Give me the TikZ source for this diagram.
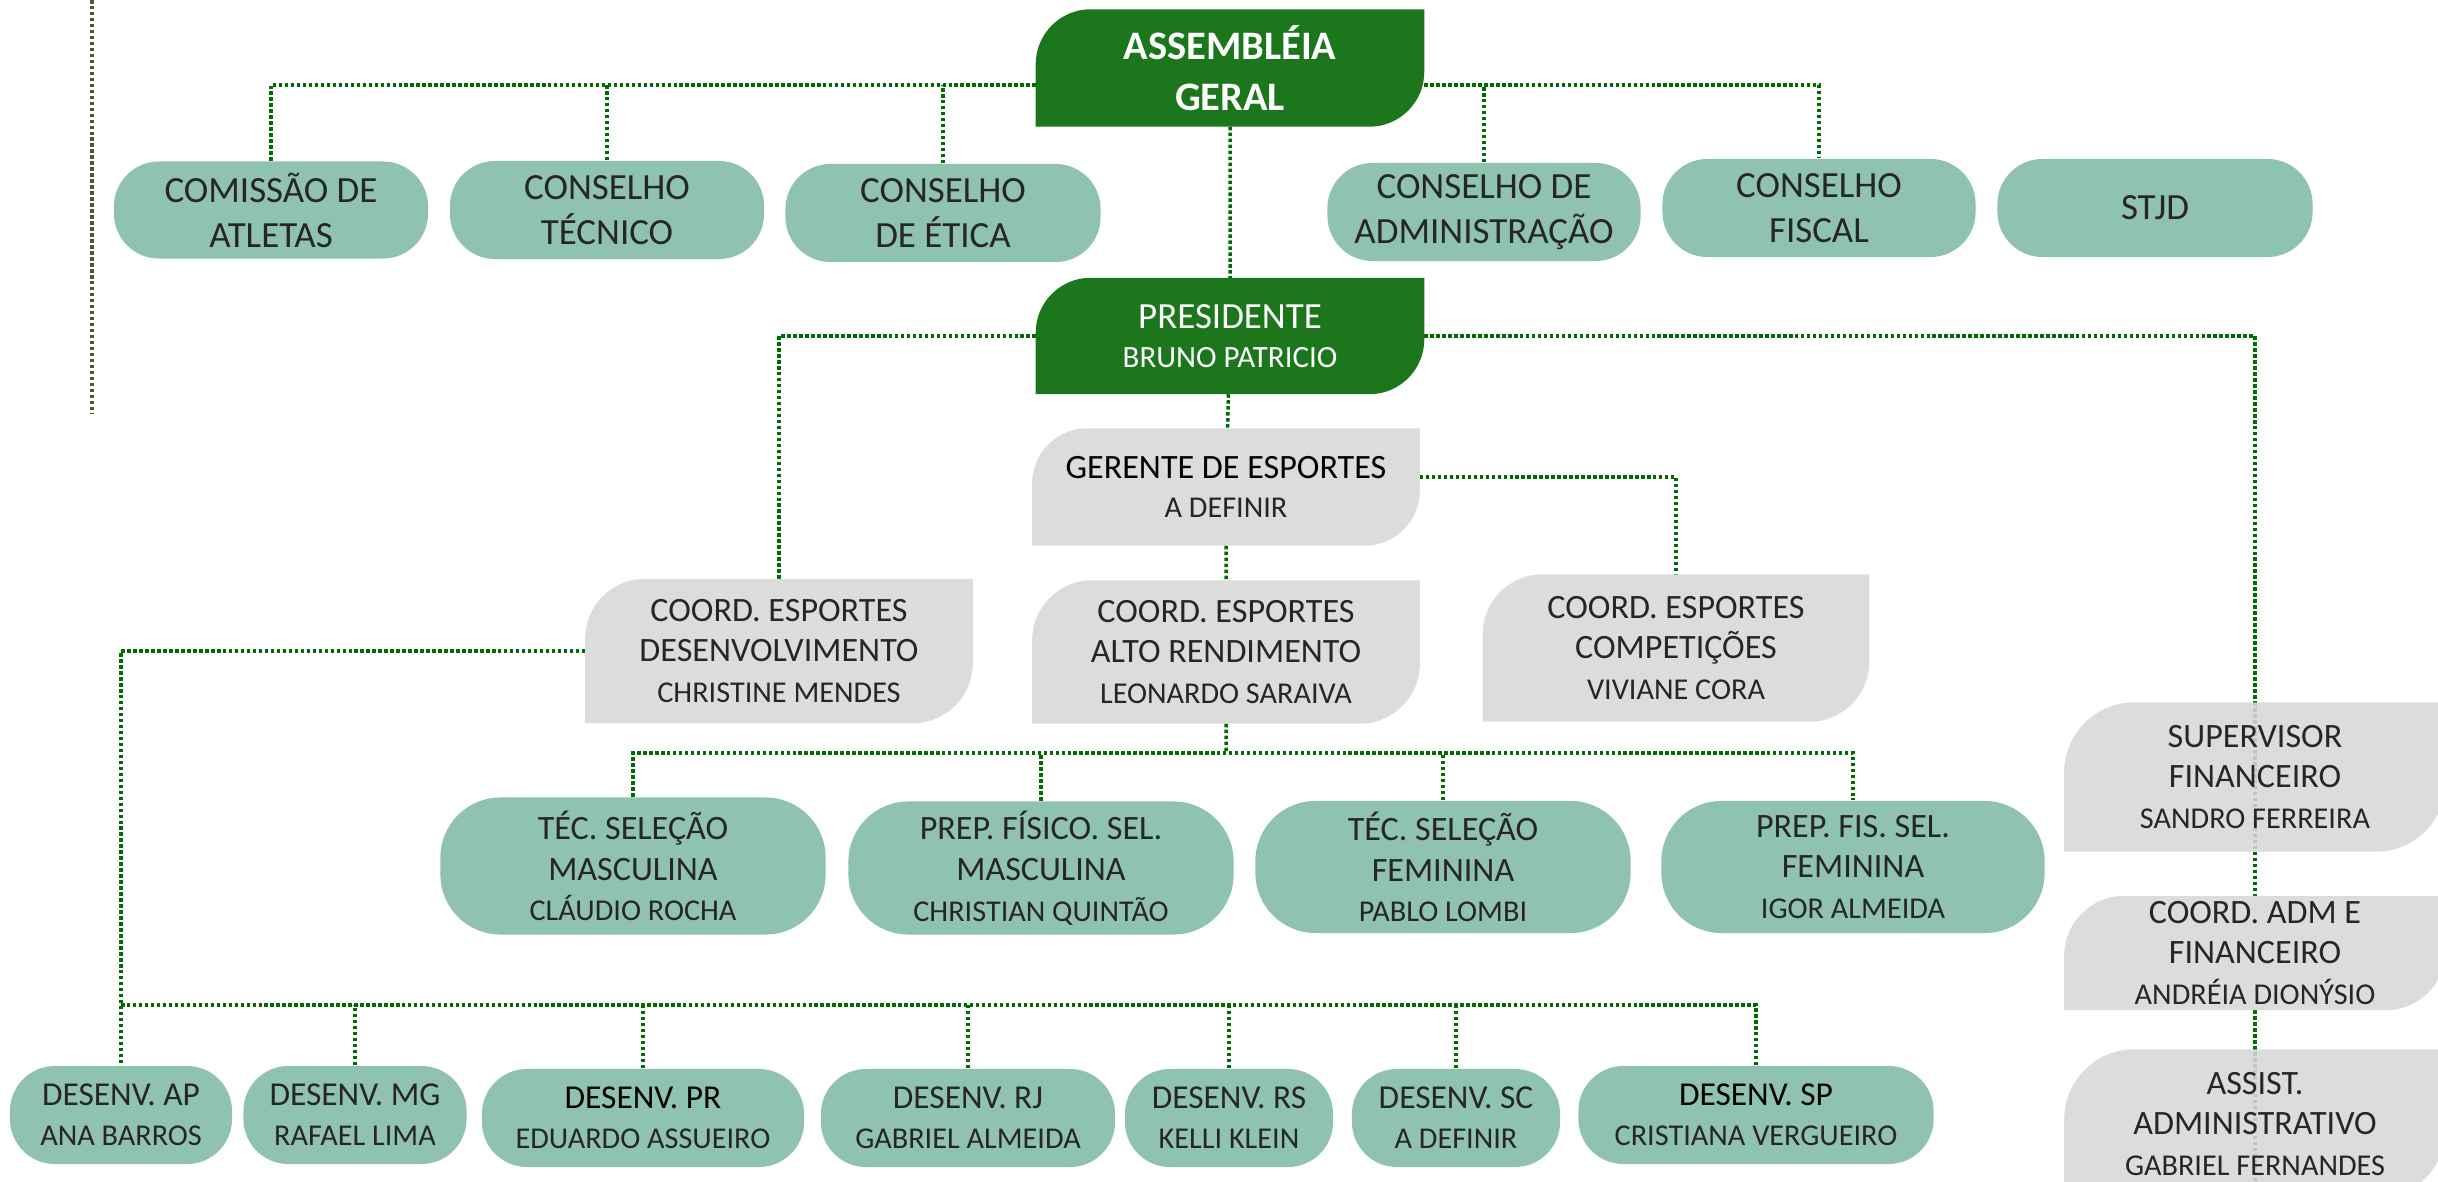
\documentclass[tikz,border=0pt]{standalone}
\usepackage{fontspec}
\setmainfont{Carlito}
\usepackage{tikz}
\usetikzlibrary{calc, positioning}
\definecolor{agreen}{HTML}{1C771C}
\definecolor{ateal}{HTML}{8FC3B0}
\definecolor{agray}{HTML}{D7D7D7}
\definecolor{alink}{HTML}{006B00}
\definecolor{atext}{HTML}{262626}
\definecolor{aolive}{HTML}{4A5A32}
\pgfdeclarelayer{lines}
\pgfdeclarelayer{bg}
\pgfsetlayers{lines,bg,main}
\tikzset{
  pill/.style={fill=ateal, rounded corners=0.45cm, text=atext, align=center, inner sep=0pt},
  leafbox/.style={text=atext, align=center, inner sep=0pt},
  link/.style={alink, line width=1pt, dash pattern=on 1pt off 0.7pt},
  grayleaf/.style={agray, fill opacity=0.88},
}
\newcommand{\bigttl}{\fontsize{10.5}{12.8}\selectfont}
\newcommand{\midttl}{\fontsize{9.7}{11.6}\selectfont}
\newcommand{\nm}[1]{{\fontsize{8.6}{11}\selectfont\color{atext}#1}}
\newcommand{\leafshape}[3]{%
  \begin{pgfonlayer}{bg}
    \fill[#3] (#1.north east) -- ([yshift=#2]#1.south east) arc[start angle=0, end angle=-90, radius=#2]
      -- (#1.south west) -- ([yshift=-#2]#1.north west) arc[start angle=180, end angle=90, radius=#2] -- cycle;
  \end{pgfonlayer}}

\begin{document}
\begin{tikzpicture}[x=0.01cm, y=0.01cm]
\useasboundingbox (0,0) rectangle (2438,-1182);

\node[leafbox, text=white, font=\bfseries\fontsize{11.5}{14.5}\selectfont, minimum width=3.87cm, minimum height=1.16cm] (ag) at (1230,-68) {ASSEMBLÉIA\\GERAL};
\leafshape{ag}{0.55cm}{agreen}
\node[leafbox, text=white, font=\fontsize{10.5}{11.2}\selectfont, minimum width=3.87cm, minimum height=1.15cm] (pres) at (1230,-336) {PRESIDENTE\\{\fontsize{8.8}{11}\selectfont BRUNO PATRICIO}};
\leafshape{pres}{0.55cm}{agreen}

\node[pill, font=\bigttl, minimum width=3.14cm, minimum height=0.97cm] (com) at (271,-210) {COMISSÃO DE\\ATLETAS};
\node[pill, font=\bigttl, minimum width=3.14cm, minimum height=0.98cm] (ctec) at (607,-210) {CONSELHO\\TÉCNICO};
\node[pill, font=\bigttl, minimum width=3.15cm, minimum height=0.98cm] (cet) at (943,-213) {CONSELHO\\DE ÉTICA};
\node[pill, font=\bigttl, minimum width=3.13cm, minimum height=0.98cm] (cadm) at (1484,-212) {CONSELHO DE\\ADMINISTRAÇÃO};
\node[pill, font=\bigttl, minimum width=3.13cm, minimum height=0.98cm] (cfis) at (1819,-208) {CONSELHO\\FISCAL};
\node[pill, font=\bigttl, minimum width=3.15cm, minimum height=0.98cm] (stjd) at (2155,-208) {STJD};

\node[leafbox, text=black, font=\fontsize{9.7}{11.1}\selectfont, minimum width=3.86cm, minimum height=1.16cm] (ger) at (1226,-487) {GERENTE DE ESPORTES\\\nm{A DEFINIR}};
\leafshape{ger}{0.55cm}{grayleaf}

\node[leafbox, font=\midttl, minimum width=3.86cm, minimum height=1.43cm] (cdes) at (779,-651) {COORD. ESPORTES\\DESENVOLVIMENTO\\\nm{CHRISTINE MENDES}};
\leafshape{cdes}{0.6cm}{grayleaf}
\node[leafbox, font=\midttl, minimum width=3.86cm, minimum height=1.42cm] (car) at (1226,-652) {COORD. ESPORTES\\ALTO RENDIMENTO\\\nm{LEONARDO SARAIVA}};
\leafshape{car}{0.6cm}{grayleaf}
\node[leafbox, font=\midttl, minimum width=3.85cm, minimum height=1.46cm] (ccomp) at (1676,-648) {COORD. ESPORTES\\COMPETIÇÕES\\\nm{VIVIANE CORA}};
\leafshape{ccomp}{0.6cm}{grayleaf}

\node[pill, rounded corners=0.6cm, font=\midttl, minimum width=3.85cm, minimum height=1.37cm] (tsm) at (633,-866) {TÉC. SELEÇÃO\\MASCULINA\\\nm{CLÁUDIO ROCHA}};
\node[pill, rounded corners=0.6cm, font=\midttl, minimum width=3.85cm, minimum height=1.33cm] (pfm) at (1041,-868) {PREP. FÍSICO. SEL.\\MASCULINA\\\nm{CHRISTIAN QUINTÃO}};
\node[pill, rounded corners=0.6cm, font=\midttl, minimum width=3.75cm, minimum height=1.32cm] (tsf) at (1443,-867) {TÉC. SELEÇÃO\\FEMININA\\\nm{PABLO LOMBI}};
\node[pill, rounded corners=0.6cm, font=\midttl, minimum width=3.83cm, minimum height=1.32cm] (pff) at (1853,-867) {PREP. FIS. SEL.\\FEMININA\\\nm{IGOR ALMEIDA}};

\node[pill, font=\fontsize{9.5}{11.4}\selectfont, minimum width=2.22cm, minimum height=0.98cm] (dap) at (121,-1115) {DESENV. AP\\\nm{ANA BARROS}};
\node[pill, font=\fontsize{9.5}{11.4}\selectfont, minimum width=2.23cm, minimum height=0.98cm] (dmg) at (355,-1115) {DESENV. MG\\\nm{RAFAEL LIMA}};
\node[pill, text=black, font=\fontsize{9.5}{11.4}\selectfont, minimum width=3.22cm, minimum height=0.98cm] (dpr) at (643,-1118) {DESENV. PR\\\nm{EDUARDO ASSUEIRO}};
\node[pill, font=\fontsize{9.5}{11.4}\selectfont, minimum width=2.94cm, minimum height=0.98cm] (drj) at (968,-1118) {DESENV. RJ\\\nm{GABRIEL ALMEIDA}};
\node[pill, font=\fontsize{9.5}{11.4}\selectfont, minimum width=2.08cm, minimum height=0.98cm] (drs) at (1229,-1118) {DESENV. RS\\\nm{KELLI KLEIN}};
\node[pill, font=\fontsize{9.5}{11.4}\selectfont, minimum width=2.08cm, minimum height=0.98cm] (dsc) at (1456,-1118) {DESENV. SC\\\nm{A DEFINIR}};
\node[pill, text=black, font=\fontsize{9.5}{11.4}\selectfont, minimum width=3.55cm, minimum height=0.98cm] (dsp) at (1756,-1115) {DESENV. SP\\\nm{CRISTIANA VERGUEIRO}};

\node[leafbox, font=\midttl, minimum width=3.8cm, minimum height=1.48cm] (sup) at (2255,-777) {SUPERVISOR\\FINANCEIRO\\\nm{SANDRO FERREIRA}};
\leafshape{sup}{0.7cm}{grayleaf}
\node[leafbox, font=\midttl, minimum width=3.8cm, minimum height=1.13cm] (cadmf) at (2255,-953) {COORD. ADM E\\FINANCEIRO\\\nm{ANDRÉIA DIONÝSIO}};
\leafshape{cadmf}{0.6cm}{grayleaf}
\node[leafbox, font=\midttl, minimum width=3.8cm, minimum height=1.48cm] (asst) at (2255,-1124) {ASSIST.\\ADMINISTRATIVO\\\nm{GABRIEL FERNANDES}};
\leafshape{asst}{0.7cm}{grayleaf}

\begin{pgfonlayer}{lines}
\coordinate (agl) at ([yshift=-0.17cm]ag.west);
\coordinate (agr) at ([yshift=-0.17cm]ag.east);
\coordinate (mbus) at (0,-753);
\coordinate (bbus) at (0,-1005);
\coordinate (vtop) at (92,0);
\coordinate (vbot) at (92,-413);
\draw[link] (com.north) |- (agl);
\draw[link] (ctec.north) -- (ctec.north |- agl);
\draw[link] (cet.north) -- (cet.north |- agl);
\draw[link] (agr) -| (cfis.north);
\draw[link] (cadm.north) -- (cadm.north |- agr);
\draw[link] (ag.south) -- (pres) -- (ger) -- (car) -- (car |- mbus);
\draw[link] (cdes.north) |- (pres) -| (sup.north);
\draw[link] ([yshift=0.1cm]ger.east) -| (ccomp.north);
\draw[link] (tsm.north) |- (pff.north |- mbus) -- (pff.north);
\foreach \n in {pfm,tsf} \draw[link] (\n.north) -- (\n.north |- mbus);
\draw[link] (cdes.west) -| (dap.north);
\draw[link] (dap.north |- bbus) -| (dsp.north);
\foreach \n in {dmg,dpr,drj,drs,dsc} \draw[link] (\n.north) -- (\n.north |- bbus);
\draw[link] (sup.north) -- (cadmf) -- (asst.south);
\draw[link, aolive] (vtop) -- (vbot);
\end{pgfonlayer}
\end{tikzpicture}
\end{document}
